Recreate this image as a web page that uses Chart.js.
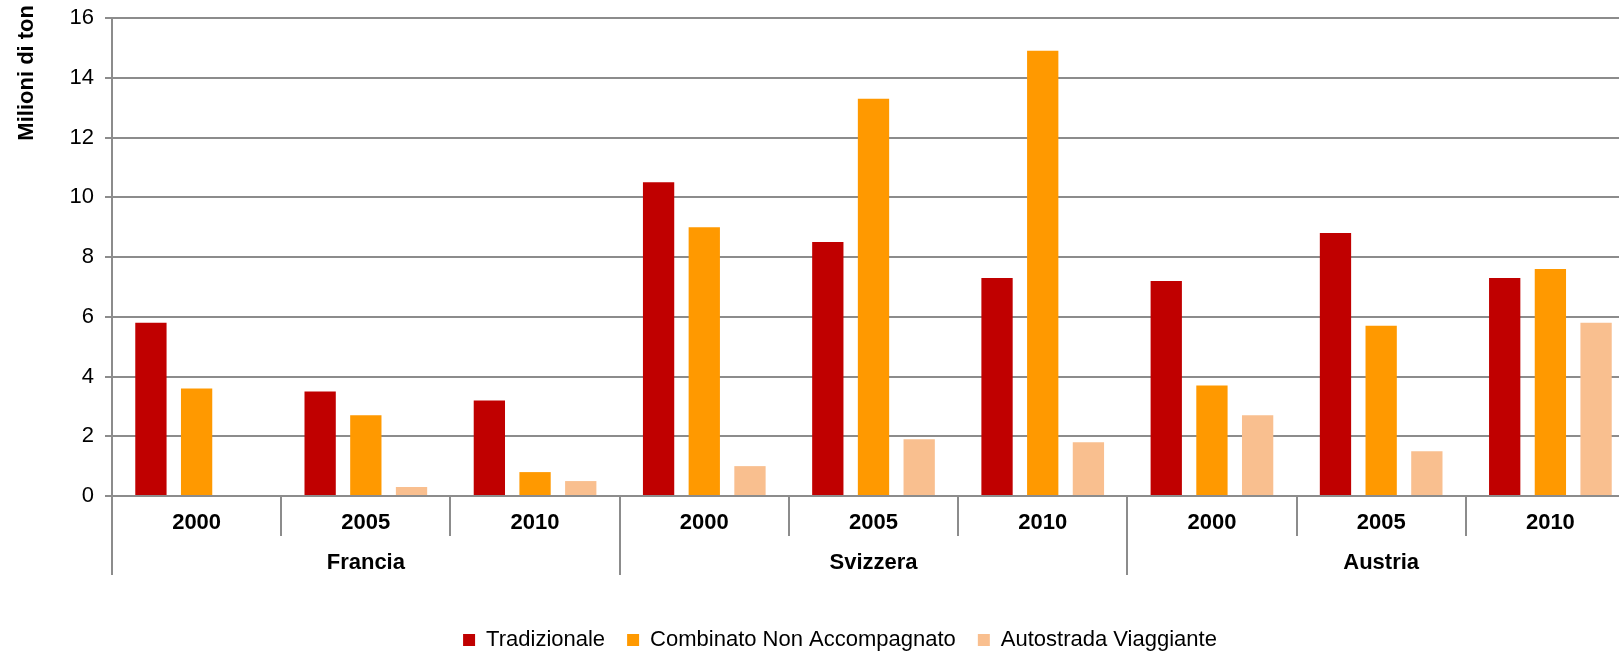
<!DOCTYPE html>
<html>
<head>
<meta charset="utf-8">
<script src="https://cdn.jsdelivr.net/npm/chart.js@4/dist/chart.umd.min.js"></script>
<style>
  html, body { margin: 0; padding: 0; background: #fff; overflow: hidden; }
  #wrap { position: relative; width: 1680px; height: 661px; }
</style>
</head>
<body>
<div id="wrap"><canvas id="chart"></canvas></div>
<script>
// Traffico merci ferroviario per paese e anno (milioni di tonnellate)
const countries = ['Francia', 'Svizzera', 'Austria'];
const years = ['2000', '2005', '2010'];
const tradizionale = [5.8, 3.5, 3.2, 10.5, 8.5, 7.3, 7.2, 8.8, 7.3];
const combinato = [3.6, 2.7, 0.8, 9.0, 13.3, 14.9, 3.7, 5.7, 7.6];
const autostrada = [null, 0.3, 0.5, 1.0, 1.9, 1.8, 2.7, 1.5, 5.8];
const yTicks = [0, 2, 4, 6, 8, 10, 12, 14, 16];
const yTitle = 'Milioni di ton';

const labels = [];
countries.forEach(() => years.forEach(y => labels.push(y)));

const GRID = '#8c8c8c';
const FONT = '"Liberation Sans", Arial, sans-serif';

// second row of the category axis (separators, country names) and the y title
const countryAxis = {
  id: 'countryAxis',
  afterDraw(chart) {
    const { ctx, scales: { x }, chartArea } = chart;
    const step = x.getPixelForValue(1) - x.getPixelForValue(0);
    const y0 = chartArea.bottom;
    ctx.save();
    ctx.strokeStyle = GRID;
    ctx.lineWidth = 2;
    for (let i = 0; i <= labels.length; i++) {
      const px = Math.round(x.getPixelForValue(0) - step / 2 + i * step);
      const long = i % years.length === 0;
      ctx.beginPath();
      ctx.moveTo(px, y0);
      ctx.lineTo(px, y0 + (long ? 79 : 40));
      ctx.stroke();
    }
    ctx.fillStyle = '#000';
    ctx.font = 'bold 22px ' + FONT;
    ctx.textAlign = 'center';
    ctx.textBaseline = 'middle';
    countries.forEach((c, k) => {
      const mid = x.getPixelForValue(k * years.length + 1);
      ctx.fillText(c, mid, y0 + 67);
    });

    ctx.translate(27, 5);
    ctx.rotate(-Math.PI / 2);
    ctx.textAlign = 'right';
    ctx.fillText(yTitle, 0, 0);
    ctx.restore();
  }
};

new Chart(document.getElementById('chart'), {
  type: 'bar',
  data: {
    labels: labels,
    datasets: [
      { label: 'Tradizionale', data: tradizionale, backgroundColor: '#c00000' },
      { label: 'Combinato Non Accompagnato', data: combinato, backgroundColor: '#ff9900' },
      { label: 'Autostrada Viaggiante', data: autostrada, backgroundColor: '#f9bf8f' }
    ]
  },
  options: {
    responsive: true,
    maintainAspectRatio: false,
    animation: false,
    layout: { padding: { top: 18, right: 0, left: 0, bottom: 0 } },
    datasets: { bar: { categoryPercentage: 0.81, barPercentage: 0.685 } },
    plugins: {
      tooltip: { enabled: false },
      legend: {
        position: 'bottom',
        labels: {
          color: '#000',
          font: { family: FONT, size: 22 },
          boxWidth: 12,
          boxHeight: 12,
          padding: 22
        }
      }
    },
    scales: {
      x: {
        grid: { display: false },
        border: { display: false },
        ticks: {
          color: '#000',
          font: { family: FONT, size: 22, weight: 'bold' },
          padding: 6,
          maxRotation: 0,
          autoSkip: false
        },
        afterFit(scale) { scale.height = 111; }
      },
      y: {
        min: 0,
        max: 16,
        afterBuildTicks(scale) { scale.ticks = yTicks.map(v => ({ value: v })); },
        grid: { color: GRID, lineWidth: 2, tickLength: 7 },
        border: { color: GRID, width: 2 },
        ticks: {
          color: '#000',
          font: { family: FONT, size: 22, lineHeight: 0.6 },
          padding: 11
        },
        afterFit(scale) { scale.width = 112; }
      },
      // empty strip on the right, keeps the plot edge where the page is cut
      yRight: {
        type: 'linear',
        position: 'right',
        grid: { display: false },
        border: { display: false },
        ticks: { display: false },
        afterFit(scale) { scale.width = 45; }
      }
    }
  },
  plugins: [countryAxis]
});
</script>
</body>
</html>
